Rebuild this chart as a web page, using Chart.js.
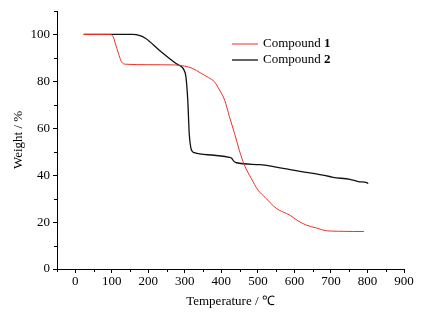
<!DOCTYPE html>
<html>
<head>
<meta charset="utf-8">
<script src="https://cdn.jsdelivr.net/npm/chart.js@4/dist/chart.umd.min.js"></script>
<style>
  html, body { margin:0; padding:0; background:#fff; }
  #wrap { width:422px; height:319px; }
</style>
</head>
<body>
<div id="wrap"><canvas id="ch_tga" width="422" height="319"></canvas></div>
<script>
// TGA curves
const temps1   = [23, 97, 104, 110, 118, 126, 132, 140, 200, 272, 300, 320, 345, 365, 381, 395, 409, 422, 436, 449, 463, 482, 500, 520, 550, 570, 587, 610, 633, 660, 688, 720, 760, 790];
const weights1 = [100, 100, 99, 96, 92, 88.5, 87.5, 87.3, 87.1, 87, 86.5, 85.6, 83.4, 81.6, 79.8, 76.3, 72, 65, 57.8, 50.7, 44.3, 38.6, 33.7, 30.5, 25.9, 24.2, 23, 20.5, 18.7, 17.5, 16.3, 16.1, 16, 16];

const temps2   = [23, 157, 175, 193, 230, 276, 294, 300, 303, 308, 312, 316, 320, 326, 380, 422, 428, 434, 441, 505, 569, 620, 660, 706, 752, 775, 798, 802];
const weights2 = [100, 100, 99.6, 98.3, 93.3, 87.6, 85.8, 84, 81.9, 72, 57.8, 52, 50.2, 49.6, 48.5, 47.6, 47.2, 46, 45.3, 44.5, 42.9, 41.5, 40.6, 39.1, 38.2, 37.3, 36.8, 36.4];

const seriesNames = ['Compound ', 'Compound '];
const seriesNums  = ['1', '2'];
const seriesColors = ['#e8322a', '#111111'];

const xTitle = 'Temperature / \u2103';
const yTitle = 'Weight / %';

const FONT = '"Liberation Serif", "Times New Roman", serif';

const pts = (xs, ys) => xs.map((x,i)=>({x, y:ys[i]}));

// minor ticks (shorter) at the half steps
const minorTicks = {
  id:'minorTicks',
  afterDraw(chart){
    const {ctx, scales:{x, y}} = chart;
    ctx.save();
    ctx.strokeStyle = '#000'; ctx.lineWidth = 1;
    ctx.beginPath();
    for (let v = -50; v <= 900; v += 100){
      const px = Math.round(x.getPixelForValue(v)) + 0.5;
      ctx.moveTo(px, x.top); ctx.lineTo(px, x.top + 3);
    }
    for (let v = 10; v <= 110; v += 20){
      const py = Math.round(y.getPixelForValue(v)) + 0.5;
      ctx.moveTo(y.right, py); ctx.lineTo(y.right - 3, py);
    }
    ctx.stroke();
    ctx.restore();
  }
};

// legend with bold compound numbers
const tgaLegend = {
  id:'tgaLegend',
  afterDraw(chart){
    const ctx = chart.ctx;
    const x0 = 232, y0 = 44, gap = 16;
    ctx.save();
    ctx.textBaseline = 'middle';
    seriesNames.forEach((name, i)=>{
      const yy = y0 + i*gap;
      ctx.strokeStyle = seriesColors[i];
      ctx.lineWidth = i ? 1.3 : 1;
      ctx.beginPath(); ctx.moveTo(x0, yy); ctx.lineTo(x0 + 26, yy); ctx.stroke();
      ctx.fillStyle = '#000';
      ctx.font = '13px ' + FONT;
      ctx.fillText(name, x0 + 31, yy);
      const w = ctx.measureText(name).width;
      ctx.font = 'bold 13px ' + FONT;
      ctx.fillText(seriesNums[i], x0 + 31 + w, yy);
    });
    ctx.restore();
  }
};

new Chart(document.getElementById('ch_tga'), {
  type:'line',
  data:{
    datasets:[
      { label: seriesNames[0] + seriesNums[0], data: pts(temps1, weights1), borderColor: seriesColors[0], borderWidth:1, pointRadius:0, cubicInterpolationMode:'monotone' },
      { label: seriesNames[1] + seriesNums[1], data: pts(temps2, weights2), borderColor: seriesColors[1], borderWidth:1.3, pointRadius:0, cubicInterpolationMode:'monotone' }
    ]
  },
  options:{
    responsive:false, animation:false, devicePixelRatio:1,
    layout:{ padding:{ top:11, right:18, left:0, bottom:0 } },
    plugins:{ legend:{ display:false }, tooltip:{ enabled:false } },
    scales:{
      x:{
        type:'linear', min:-50, max:900,
        afterFit:(s)=>{ s.height = 50; },
        border:{ color:'#000', width:1 },
        grid:{ drawOnChartArea:false, tickLength:4, tickColor:'#000' },
        ticks:{ stepSize:100, autoSkip:false, maxRotation:0, padding:1, color:'#000', font:{ family:FONT, size:13 },
                callback:(v)=> (v % 100 === 0 && v >= 0) ? v : '' },
        afterBuildTicks:(s)=>{ s.ticks = []; for (let v=0; v<=900; v+=100) s.ticks.push({value:v}); },
        title:{ display:true, text:xTitle, color:'#000', font:{ family:FONT, size:13 }, padding:{ top:0, bottom:10 } }
      },
      y:{
        min:0, max:110,
        afterFit:(s)=>{ s.width = 57; },
        border:{ color:'#000', width:1 },
        grid:{ drawOnChartArea:false, tickLength:4, tickColor:'#000' },
        ticks:{ stepSize:20, autoSkip:false, padding:3, color:'#000', font:{ family:FONT, size:13 } },
        afterBuildTicks:(s)=>{ s.ticks = []; for (let v=0; v<=100; v+=20) s.ticks.push({value:v}); },
        title:{ display:true, text:yTitle, color:'#000', font:{ family:FONT, size:13 }, padding:{ top:11, bottom:0 } }
      }
    }
  },
  plugins:[minorTicks, tgaLegend]
});
</script>
</body>
</html>
